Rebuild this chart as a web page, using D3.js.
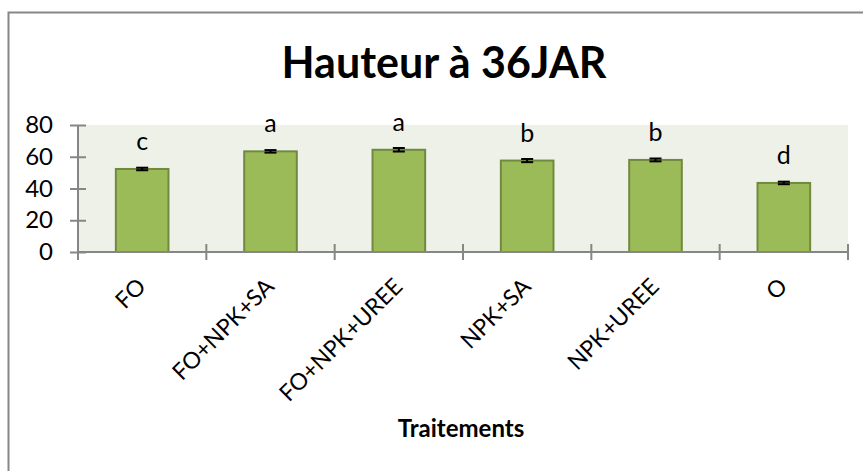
<!DOCTYPE html>
<html><head><meta charset="utf-8">
<script src="https://cdn.jsdelivr.net/npm/d3@7"></script>
<style>body{margin:0;background:#fff}svg{display:block}text{font-family:Lato,"Open Sans",sans-serif}</style>
</head><body><svg id="c" width="863" height="471"></svg>
<script>
const categories = ["FO","FO+NPK+SA","FO+NPK+UREE","NPK+SA","NPK+UREE","O"];
const values = [52.3, 63.4, 64.4, 57.6, 58.0, 43.5];
const errors = [0.8, 0.8, 1.1, 1.0, 0.9, 0.8];
const letters = ["c","a","a","b","b","d"];
const yTicks = [0,20,40,60,80];

const svg = d3.select("#c");
const m = {left:78, right:848, top:125, bottom:252};
svg.append("rect").attr("x",8.5).attr("y",12.5).attr("width",880).attr("height",480)
  .attr("fill","#fff").attr("stroke","#878787").attr("stroke-width",2);

const x = d3.scaleBand().domain(categories).range([m.left,m.right]).paddingInner(0.59).paddingOuter(0.295);
const y = d3.scaleLinear().domain([0,80]).range([m.bottom,m.top]);

svg.append("rect").attr("x",m.left).attr("y",m.top).attr("width",m.right-m.left).attr("height",m.bottom-m.top).attr("fill","#eef1e8");

// bars
svg.selectAll("rect.bar").data(categories).join("rect").attr("class","bar")
  .attr("x",d=>x(d)).attr("width",x.bandwidth())
  .attr("y",(d,i)=>y(values[i])).attr("height",(d,i)=>y(0)-y(values[i]))
  .attr("fill","#9bbb59").attr("stroke","#71893f").attr("stroke-width",2);

// error bars
const eb = svg.append("g").attr("stroke","#000").attr("stroke-width",2);
categories.forEach((c,i)=>{
  const cx = x(c)+x.bandwidth()/2;
  const y1 = y(values[i]+errors[i]), y0 = y(values[i]-errors[i]);
  eb.append("line").attr("x1",cx).attr("x2",cx).attr("y1",y1).attr("y2",y0);
  eb.append("line").attr("x1",cx-6).attr("x2",cx+6).attr("y1",y1).attr("y2",y1);
  eb.append("line").attr("x1",cx-6).attr("x2",cx+6).attr("y1",y0).attr("y2",y0);
});

// letters
svg.selectAll("text.let").data(categories).join("text").attr("class","let")
  .attr("x",d=>x(d)+x.bandwidth()/2).attr("y",(d,i)=>y(values[i])-19)
  .attr("text-anchor","middle").attr("font-size",25).attr("fill","#000").text((d,i)=>letters[i]);

// y axis
const ya = svg.append("g").attr("transform",`translate(${m.left},0)`)
  .call(d3.axisLeft(y).tickValues(yTicks).tickSize(8).tickPadding(17));
ya.selectAll(".tick line").attr("x2",8).attr("x1",-8).attr("stroke","#868686").attr("stroke-width",2);
ya.select(".domain").attr("d",`M0,${m.top}V${m.bottom+8}`).attr("stroke","#868686").attr("stroke-width",2);
ya.selectAll("text").attr("font-size",24).attr("fill","#000").attr("font-family","Lato");

// x axis
const xa = svg.append("g");
xa.append("line").attr("x1",m.left).attr("x2",m.right).attr("y1",m.bottom).attr("y2",m.bottom).attr("stroke","#868686").attr("stroke-width",2);
const step = x.step();
d3.range(categories.length+1).forEach(k=>{
  const tx = m.left + k*step;
  xa.append("line").attr("x1",tx).attr("x2",tx).attr("y1",m.bottom-8).attr("y2",m.bottom+8).attr("stroke","#868686").attr("stroke-width",2);
});
xa.selectAll("text").data(categories).join("text")
  .attr("transform",d=>`translate(${x(d)+x.bandwidth()/2+5},${m.bottom+36}) rotate(-45)`)
  .attr("text-anchor","end").attr("font-size",23).attr("fill","#000").text(d=>d);

// titles
svg.append("text").attr("x",444).attr("y",78).attr("text-anchor","middle")
  .attr("font-size",43).attr("font-weight","bold").attr("fill","#000").text("Hauteur à 36JAR");
svg.append("text").attr("x",461).attr("y",437).attr("text-anchor","middle")
  .attr("font-size",24).attr("font-weight","bold").attr("fill","#000").text("Traitements");
</script></body></html>
